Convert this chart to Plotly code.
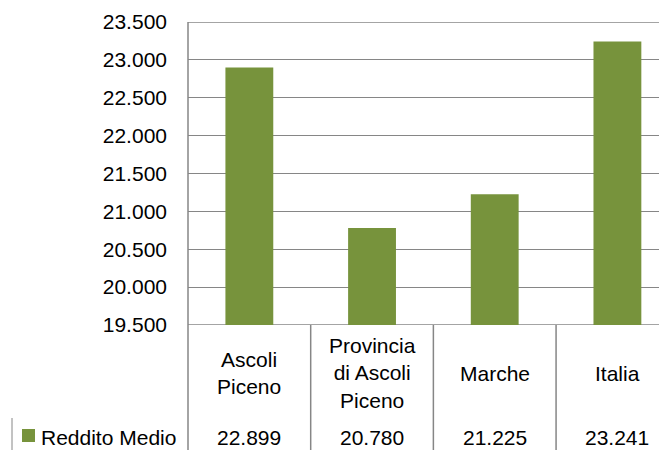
import plotly.graph_objects as go

categories = ["Ascoli Piceno", "Provincia di Ascoli Piceno", "Marche", "Italia"]
category_labels = ["Ascoli<br>Piceno", "Provincia<br>di Ascoli<br>Piceno", "Marche", "Italia"]
values = [22899, 20780, 21225, 23241]
series_name = "Reddito Medio"
y_ticks = [19500, 20000, 20500, 21000, 21500, 22000, 22500, 23000, 23500]

W, H = 659, 450
left, top, bottom_px = 188, 22, 325
plot_h = bottom_px - top
x_range = [-0.5, 3.339]

GREEN = "#77933C"
GRID = "#868686"
FONT = "Liberation Sans"
FS = 21

fig = go.Figure()
fig.add_trace(go.Bar(x=list(range(len(categories))), y=values, base=0,
                     marker=dict(color=GREEN, line=dict(width=0)),
                     width=0.39, name=series_name, showlegend=False,
                     hovertext=categories))

def px_to_paper_y(py):
    return (bottom_px - py) / plot_h

def cat_to_paper_x(c):
    return (c - x_range[0]) / (x_range[1] - x_range[0])

shapes = []
# gridlines at the range edges (top and bottom of plot area)
for yv in (y_ticks[0], y_ticks[-1]):
    shapes.append(dict(type="line", xref="paper", yref="y", x0=0, x1=1, y0=yv, y1=yv,
                       line=dict(color=GRID, width=1.5), layer="below"))
# table vertical lines at category boundaries
for b in [0.5, 1.5, 2.5]:
    xp = cat_to_paper_x(b)
    shapes.append(dict(type="line", xref="paper", yref="paper", x0=xp, x1=xp,
                       y0=0, y1=px_to_paper_y(H + 2), line=dict(color=GRID, width=1.5)))
# left axis line extended through the table
shapes.append(dict(type="line", xref="paper", yref="paper", x0=0, x1=0,
                   y0=1, y1=px_to_paper_y(H + 2), line=dict(color=GRID, width=1.5)))
# left border of legend row
x12 = (12 - left) / (W - left)
shapes.append(dict(type="line", xref="paper", yref="paper", x0=x12, x1=x12,
                   y0=px_to_paper_y(418), y1=px_to_paper_y(H + 2), line=dict(color=GRID, width=1)))
# legend key square
shapes.append(dict(type="rect", xref="paper", yref="paper",
                   x0=(22 - left) / (W - left), x1=(35 - left) / (W - left),
                   y0=px_to_paper_y(429), y1=px_to_paper_y(442),
                   fillcolor=GREEN, line=dict(width=0)))

annotations = []
for i, lab in enumerate(category_labels):
    annotations.append(dict(x=i, y=px_to_paper_y(373), xref="x", yref="paper",
                            text=lab, showarrow=False, xanchor="center", yanchor="middle",
                            font=dict(family=FONT, size=FS, color="#000000")))
for i, v in enumerate(values):
    annotations.append(dict(x=i, y=px_to_paper_y(437), xref="x", yref="paper",
                            text=f"{v:,}".replace(",", "."), showarrow=False,
                            xanchor="center", yanchor="middle",
                            font=dict(family=FONT, size=FS, color="#000000")))
annotations.append(dict(x=(39 - left) / (W - left), y=px_to_paper_y(437), xref="paper", yref="paper",
                        text=series_name, showarrow=False, xanchor="left", yanchor="middle",
                        font=dict(family=FONT, size=FS, color="#000000")))

fig.update_layout(
    width=W, height=H,
    margin=dict(l=left, r=0, t=top, b=H - bottom_px, pad=0),
    paper_bgcolor="white", plot_bgcolor="white",
    separators=",.",
    shapes=shapes, annotations=annotations,
    showlegend=False,
    font=dict(family=FONT, size=FS, color="#000000"),
)
fig.update_xaxes(range=x_range, showticklabels=False, showgrid=False, zeroline=False,
                 showline=False, ticks="")
fig.update_yaxes(range=[19500, 23500], tickvals=y_ticks, tickformat=",.0f",
                 showgrid=True, gridcolor=GRID, gridwidth=1, zeroline=False,
                 showline=False, ticks="", ticklabelstandoff=20,
                 tickfont=dict(family=FONT, size=FS, color="#000000"))

fig.write_html("out.html", config={"displayModeBar": False},
               post_script="document.body.style.margin='0';document.body.style.overflow='hidden';")
